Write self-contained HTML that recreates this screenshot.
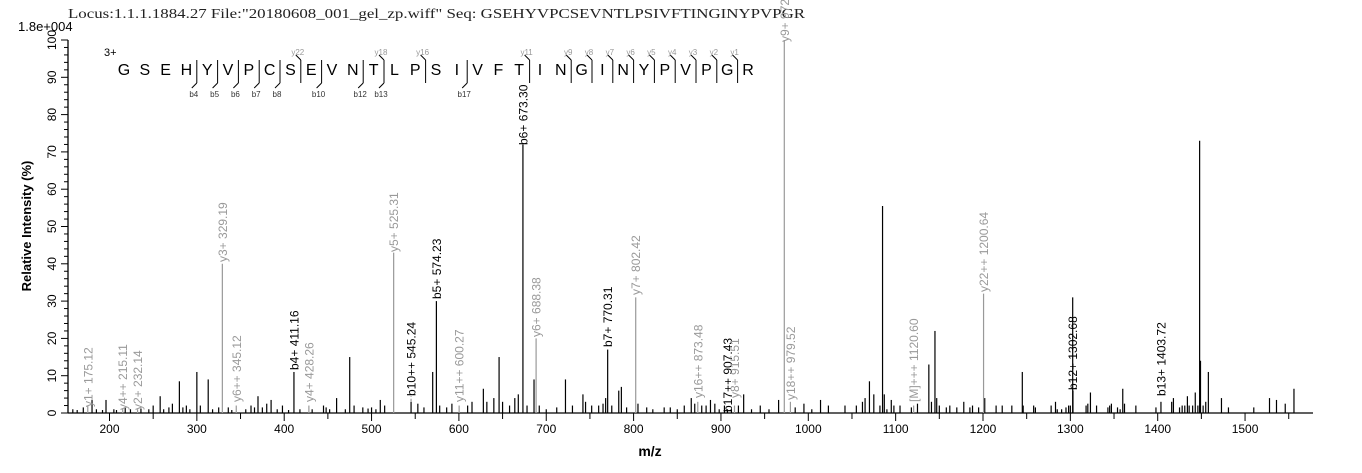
<!DOCTYPE html>
<html><head><meta charset="utf-8"><style>
body{margin:0;background:#fff;width:1362px;height:473px;overflow:hidden}
svg{display:block}
text{font-family:"Liberation Sans",Arial,sans-serif}
</style></head><body>
<svg id="s" width="1362" height="473" viewBox="0 0 1362 473">
<text x="68" y="18" style="font-family:'Liberation Serif',serif" font-size="14" fill="#222" textLength="737" lengthAdjust="spacingAndGlyphs">Locus:1.1.1.1884.27 File:"20180608_001_gel_zp.wiff"   Seq: GSEHYVPCSEVNTLPSIVFTINGINYPVPGR</text>
<text x="18" y="31" font-size="13" fill="#000">1.8e+004</text>
<g id="ax" stroke="#000" fill="none"></g>
<g id="tl" font-size="12" fill="#000"></g>
<text transform="translate(31,226) rotate(-90)" text-anchor="middle" font-size="13" font-weight="bold">Relative   Intensity (%)</text>
<text x="650" y="456" text-anchor="middle" font-size="14" font-weight="bold">m/z</text>
<g id="pk" stroke="#000" stroke-width="1.2"></g>
<g id="lb" font-size="12"></g>
<g id="sq"></g>
</svg>
<script>
var NS="http://www.w3.org/2000/svg";
function X(m){return 109.5+(m-200)*0.8735}
function Y(p){return 413-p*3.73}
function el(t,a,p,txt){var e=document.createElementNS(NS,t);for(var k in a)e.setAttribute(k,a[k]);if(txt!=null)e.textContent=txt;document.getElementById(p).appendChild(e);return e}
el('line',{x1:68,y1:413,x2:1313,y2:413,'stroke-width':1.3},'ax');
el('line',{x1:68,y1:40,x2:68,y2:413,'stroke-width':1.3},'ax');
for(var p=0;p<=100;p+=2){var L=p%10==0?7:4;el('line',{x1:68-L,y1:Y(p),x2:68,y2:Y(p)},'ax');}
for(var p=0;p<=100;p+=10){el('text',{transform:'translate(56,'+Y(p)+') rotate(-90)','text-anchor':'middle'},'tl',String(p));}
for(var m=150;m<=1550;m+=50){var L=m%100==0?8:6;if(X(m)<68)continue;el('line',{x1:X(m),y1:413,x2:X(m),y2:413+L},'ax');}
for(var m=200;m<=1500;m+=100){el('text',{x:X(m),y:433,'text-anchor':'middle'},'tl',String(m));}
var noise=[[158,1],[163,0.8],[170,1.5],[180,3.5],[185,1],[192,0.8],[196,3.5],[205,1],[208,0.8],[218,1.5],[224,1],[236,1.2],[245,1],[250,2],[258,4.5],[262,1],[268,1.5],[272,2.5],[280,8.5],[284,1.5],[288,2],[292,1],[300,11],[304,2],[313,9],[318,1],[325,1.5],[336,1.5],[340,0.8],[356,1],[362,2],[366,1.5],[370,4.5],[375,1.5],[380,2.5],[385,3.5],[392,1],[398,2],[405,0.8],[418,1],[432,1],[445,2],[448,1.5],[452,1],[460,4],[470,1],[475,15],[480,2],[490,1.5],[496,1.2],[500,1.5],[505,1],[510,3.5],[515,2],[553,2.5],[560,1.5],[570,11],[578,2],[586,1.5],[592,2.5],[610,2],[615,3],[628,6.5],[632,3],[640,4],[646,15],[650,3],[658,2],[664,4],[668,5],[678,2],[686,9],[692,2],[700,1],[712,1.5],[722,9],[730,2],[742,5],[745,3],[752,2],[760,2],[765,2.5],[768,4],[775,2],[783,6],[786,7],[792,1.5],[805,2.5],[815,1.5],[822,1],[835,1.5],[842,1.5],[850,1],[858,2],[866,4],[870,2.5],[878,2],[883,2],[888,3.5],[893,2.5],[898,1],[904,2],[912,1],[920,2],[926,5],[935,1],[945,2],[955,1],[966,3.5],[985,1.5],[995,2.5],[1004,1],[1014,3.5],[1023,2],[1042,2],[1055,2],[1062,3],[1065,4],[1070,8.5],[1075,5],[1082,2],[1085,55.5],[1087,5],[1090,1],[1095,3.5],[1098,2],[1105,2],[1118,1.5],[1125,2.5],[1138,13],[1141,3],[1145,22],[1147,4],[1150,2],[1158,1.5],[1162,2],[1170,1.5],[1178,3],[1185,1.5],[1188,2],[1195,1.5],[1202,4],[1215,2],[1222,2],[1233,2],[1245,11],[1246,2],[1258,2],[1260,1.5],[1278,2],[1283,3],[1285,1],[1290,1],[1295,1.5],[1298,2],[1300,2],[1303,6],[1318,2],[1320,2.5],[1323,5.5],[1330,2],[1343,1.5],[1345,2],[1347,2.5],[1354,1.5],[1357,1],[1360,6.5],[1362,2.5],[1375,2],[1398,1.5],[1416,3],[1418,4],[1425,1.5],[1428,2],[1431,2],[1434,4.5],[1436,2],[1440,2],[1443,5.5],[1446,2],[1448,73],[1449,14],[1452,2],[1455,3],[1458,11],[1473,4],[1481,1.5],[1510,1.5],[1528,4],[1536,3.5],[1546,2.5],[1556,6.5]];
noise.forEach(function(n){el('line',{x1:X(n[0]),y1:413,x2:X(n[0]),y2:Y(n[1])},'pk')});
var L=[[175.12,2,'y1+ 175.12','#999',407],[215.11,1.2,'y4++ 215.11','#999',410],[232.14,1,'y2+ 232.14','#999',410],
[329.19,40,'y3+ 329.19','#999',262],[345.12,2,'y6++ 345.12','#999',402],[411.16,11,'b4+ 411.16','#000',370],
[428.26,2,'y4+ 428.26','#999',402],[525.31,43,'y5+ 525.31','#999',252],[545.24,3,'b10++ 545.24','#000',396,14],
[574.23,30,'b5+ 574.23','#000',299],[600.27,2,'y11++ 600.27','#999',402],[673.30,72,'b6+ 673.30','#000',145],
[688.38,20,'y6+ 688.38','#999',337],[770.31,17,'b7+ 770.31','#000',347],[802.42,31,'y7+ 802.42','#999',295],
[873.48,3,'y16++ 873.48','#999',398],[907.43,1,'b17++ 907.43','#000',412],[915.51,2,'y8+ 915.51','#999',398],
[972.52,100,'y9+ 972.52','#999',42],[979.52,3,'y18++ 979.52','#999',400],[1120.60,2,'[M]+++ 1120.60','#999',402],
[1200.64,32,'y22++ 1200.64','#999',292],[1302.68,31,'b12+ 1302.68','#000',390],[1403.72,3,'b13+ 1403.72','#000',396]];
L.forEach(function(a){var x=X(a[0]);el('line',{x1:x,y1:413,x2:x,y2:Y(a[1]),stroke:a[3]=='#000'?'#000':'#999','stroke-width':1.2},'pk');
if(a[5])el('line',{x1:x,y1:Y(a[1]),x2:x,y2:a[4],stroke:'#999','stroke-dasharray':'3,2'},'pk');
el('text',{transform:'translate('+(x+4.5)+','+a[4]+') rotate(-90)',fill:a[3]},'lb',a[2]);});
var seq="GSEHYVPCSEVNTLPSIVFTINGINYPVPGR";
el('text',{x:104,y:56,'font-size':11},'sq','3+');
for(var i=0;i<seq.length;i++){el('text',{x:124+i*20.8,y:75,'font-size':16,'text-anchor':'middle'},'sq',seq[i]);}
var yb=[[9,22],[13,18],[15,16],[20,11],[22,9],[23,8],[24,7],[25,6],[26,5],[27,4],[28,3],[29,2],[30,1]];
yb.forEach(function(q){var x=124+(q[0]-0.5)*20.8;el('line',{x1:x,y1:60,x2:x,y2:83,stroke:'#000'},'sq');el('line',{x1:x,y1:60,x2:x-5,y2:55,stroke:'#000'},'sq');el('text',{x:x-3,y:55,'font-size':8,fill:'#999','text-anchor':'middle'},'sq','y'+q[1]);});
var bb=[[4,4],[5,5],[6,6],[7,7],[8,8],[10,10],[12,12],[13,13],[17,17]];
bb.forEach(function(q){var x=124+(q[0]-0.5)*20.8;el('line',{x1:x,y1:60,x2:x,y2:83,stroke:'#000'},'sq');el('line',{x1:x,y1:83,x2:x-5,y2:88,stroke:'#000'},'sq');el('text',{x:x-3,y:97,'font-size':8,fill:'#333','text-anchor':'middle'},'sq','b'+q[1]);});
</script>
</body></html>
